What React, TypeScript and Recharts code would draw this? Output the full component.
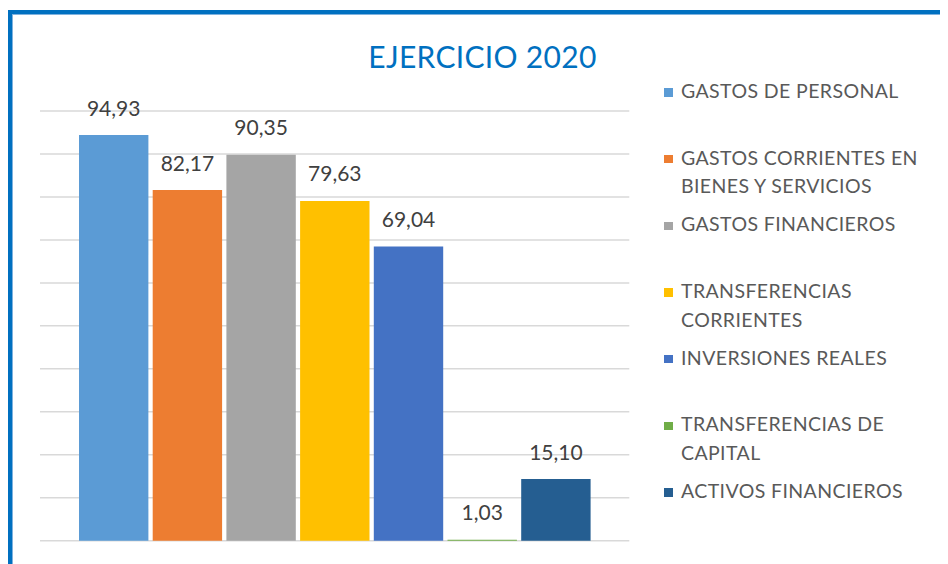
import React from 'react';
import { BarChart, Bar, XAxis, YAxis, CartesianGrid, LabelList, Legend } from 'recharts';

const categories = ['EJERCICIO 2020'];
const seriesKeys = ['personal', 'corrientes', 'financieros', 'transfCorr', 'inversiones', 'transfCap', 'activos'];
const seriesNames = [
  'GASTOS DE PERSONAL',
  'GASTOS CORRIENTES EN BIENES Y SERVICIOS',
  'GASTOS FINANCIEROS',
  'TRANSFERENCIAS CORRIENTES',
  'INVERSIONES REALES',
  'TRANSFERENCIAS DE CAPITAL',
  'ACTIVOS FINANCIEROS',
];
const legendLines = [
  ['GASTOS DE PERSONAL'],
  ['GASTOS CORRIENTES EN', 'BIENES Y SERVICIOS'],
  ['GASTOS FINANCIEROS'],
  ['TRANSFERENCIAS', 'CORRIENTES'],
  ['INVERSIONES REALES'],
  ['TRANSFERENCIAS DE', 'CAPITAL'],
  ['ACTIVOS FINANCIEROS'],
];
const seriesValues = [94.93, 82.17, 90.35, 79.63, 69.04, 1.03, 15.1];
const seriesColors = ['#5B9BD5', '#ED7D31', '#A5A5A5', '#FFC000', '#4472C4', '#70AD47', '#255E91'];
const yDomain = [0.8, 100.5];
const yTicks = [0.8, 10.77, 20.74, 30.71, 40.68, 50.65, 60.62, 70.59, 80.56, 90.53, 100.5];

const data = categories.map((c) => {
  const row: Record<string, any> = { name: c };
  seriesKeys.forEach((k, i) => {
    row[k] = seriesValues[i];
  });
  return row;
});

const FONT = 'Lato, "Open Sans", sans-serif';

const renderLabel = (props: any) => {
  const { x, y, width, value } = props;
  const cx = Number(x) + Number(width) / 2;
  const txt = Number(value).toFixed(2).replace('.', ',');
  return (
    <text x={cx} y={Number(y) - 19.5} textAnchor="middle" fill="#404040" fontSize={21} fontFamily={FONT}>
      {txt}
    </text>
  );
};

const renderLegend = (props: any) => {
  const payload: any[] = (props && props.payload) || [];
  const items = seriesNames.map((n, i) => {
    const p = payload.find((e) => e.value === n);
    return { name: n, color: (p && p.color) || seriesColors[i], lines: legendLines[i] };
  });
  return (
    <div style={{ position: 'relative', width: 280, height: 470 }}>
      {items.map((it, i) => (
        <div key={it.name} style={{ position: 'absolute', left: 0, top: i * 66.7, width: 280 }}>
          <div
            style={{
              position: 'absolute',
              left: 0,
              top: 11.4,
              width: 8.4,
              height: 8.4,
              background: it.color,
            }}
          />
          <div
            style={{
              position: 'absolute',
              left: 16.7,
              top: 0,
              fontFamily: FONT,
              fontSize: 19.5,
              letterSpacing: 0.4,
              lineHeight: '28.7px',
              color: '#595959',
              whiteSpace: 'nowrap',
            }}
          >
            {it.lines.map((l) => (
              <div key={l}>{l}</div>
            ))}
          </div>
        </div>
      ))}
    </div>
  );
};

export default function App() {
  return (
    <div style={{ position: 'relative', width: 940, height: 556, overflow: 'hidden' }}>
      <div
        style={{
          position: 'absolute',
          left: 0,
          top: 2,
          width: 1000,
          height: 1000,
          border: '4px solid #0070C0',
          boxShadow: 'inset 1px 1px 0 #7FB2DE',
          boxSizing: 'border-box',
        }}
      />
      <div style={{ position: 'absolute', left: -8, top: -8, width: 948, height: 564 }}>
        <div
          style={{
            position: 'absolute',
            left: 282.5,
            top: 40.5,
            width: 400,
            textAlign: 'center',
            fontFamily: FONT,
            fontSize: 30,
            letterSpacing: 0.3,
            lineHeight: '30px',
            color: '#0070C0',
            whiteSpace: 'nowrap',
          }}
        >
          {categories[0]}
        </div>
        <BarChart
          width={948}
          height={564}
          data={data}
          margin={{ top: 111, right: 318.7, bottom: 23.3, left: 40 }}
          barGap={4.3}
        >
          <CartesianGrid vertical={false} stroke="#D9D9D9" strokeWidth={1.5} />
          <XAxis dataKey="name" hide />
          <YAxis hide type="number" domain={yDomain} ticks={yTicks} />
          {seriesKeys.map((k, i) => (
            <Bar
              key={k}
              dataKey={k}
              name={seriesNames[i]}
              fill={seriesColors[i]}
              barSize={69.4}
              isAnimationActive={false}
            >
              <LabelList dataKey={k} content={renderLabel} />
            </Bar>
          ))}
          <Legend
            layout="vertical"
            align="center"
            verticalAlign="middle"
            content={renderLegend}
            wrapperStyle={{ left: 664.3, top: 76.85, width: 280, height: 470 }}
          />
        </BarChart>
      </div>
    </div>
  );
}
